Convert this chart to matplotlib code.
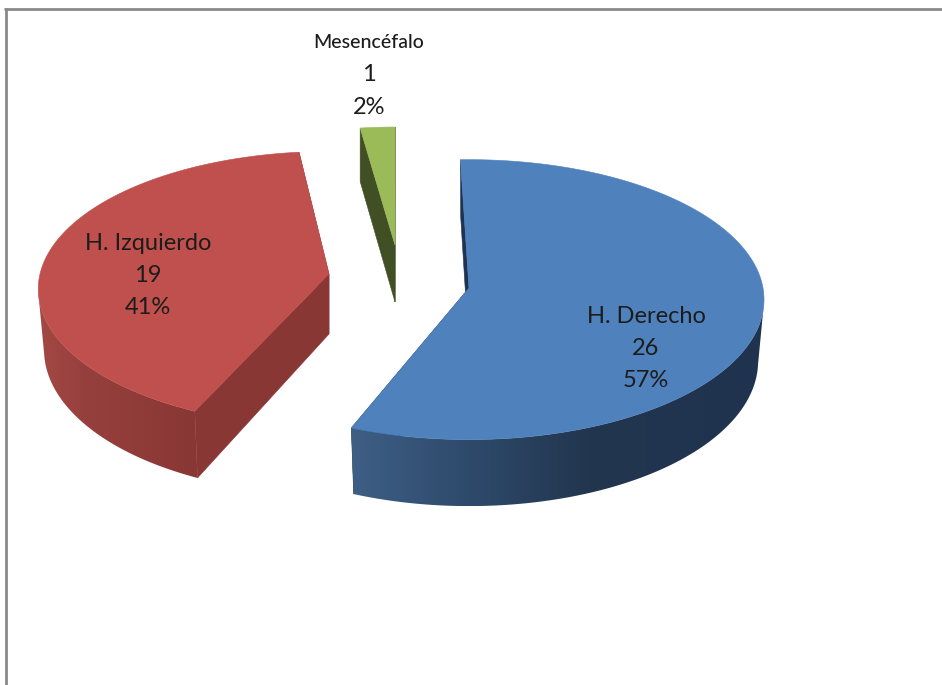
import numpy as np
import matplotlib
matplotlib.use("Agg")
import matplotlib.pyplot as plt
from matplotlib.colors import to_rgb
from matplotlib.patches import Polygon

# Lesion site counts
categories = ["H. Derecho", "H. Izquierdo", "Mesencéfalo"]
counts = [26, 19, 1]

# Slice styling
top_colors = ["#4f81bd", "#c0504d", "#9bbb59"]
cut_colors = ["#1f3350", "#893735", "#404f24"]
rim_stops = [
    ([100, 158, 180, 202], ["#1f3350", "#22364f", "#2e4a6b", "#3f5f86"]),
    ([205, 232, 262], ["#893735", "#96403d", "#a44845"]),
    None,
]
# The rim is visible from the silhouette generator to the slice's cut edge
rim_span = [(96, None), (None, 262), None]

# Exploded layout in pixels: hub x, hub y, radii, perspective, thickness, first angle
hub_x = [469, 329, 395]
hub_y = [288, 274, 245]
radius_x = [294, 289, 274]
radius_y = [139, 136, 126]
persp = [0.083, 0.11, 0.068]
thickness = [61, 60, 57]
floor_scale = [0.98, 0.98, 1.0]
first_angle = [-1.8, 204.7, -7.8]

total = sum(counts)
fig = plt.figure(figsize=(9.42, 6.85), dpi=100, facecolor="white")
ax = fig.add_axes([0, 0, 1, 1])
ax.set_xlim(0, 942)
ax.set_ylim(685, 0)
ax.axis("off")


def project(theta, i, drop=0.0):
    """Map a clock angle on slice i's disc to the screen; drop > 0 gives the lower disc."""
    t = np.radians(theta)
    w = 1 + persp[i] * np.cos(t)
    sx = floor_scale[i] if drop else 1.0
    x = hub_x[i] + sx * radius_x[i] * np.sin(t) / w
    y = hub_y[i] - radius_y[i] * np.cos(t) / w + drop / w
    return x, y


def hub(i, drop=0.0):
    return hub_x[i], hub_y[i] + drop


for i, count in enumerate(counts):
    start = first_angle[i]
    end = start + 360.0 * count / total
    d = thickness[i]

    # Flat faces exposed by the explosion
    for edge in (start, end):
        quad = [project(edge, i), project(edge, i, d), hub(i, d), hub(i)]
        ax.add_patch(Polygon(quad, closed=True, fc=cut_colors[i], ec=cut_colors[i], lw=0.4, zorder=2))

    # Curved rim: a horizontal gradient clipped to the visible strip
    if rim_stops[i] is not None:
        lo = rim_span[i][0] if rim_span[i][0] is not None else start
        hi = rim_span[i][1] if rim_span[i][1] is not None else end
        arc = np.linspace(lo, hi, 300)
        ux, uy = project(arc, i)
        bx, by = project(arc, i, d)
        strip = np.column_stack([np.r_[ux, bx[::-1]], np.r_[uy, by[::-1]]])
        stops, cols = rim_stops[i]
        rgb = np.array([to_rgb(c) for c in cols])
        stop_x, _ = project(np.array(stops, float), i)
        order = np.argsort(stop_x)
        x0, x1 = strip[:, 0].min(), strip[:, 0].max()
        grid = np.linspace(x0, x1, 600)
        ramp = np.stack([np.interp(grid, stop_x[order], rgb[order, c]) for c in range(3)], axis=-1)
        img = ax.imshow(ramp[np.newaxis, :, :], extent=(x0, x1, strip[:, 1].max(), strip[:, 1].min()),
                        aspect="auto", interpolation="bilinear", zorder=3)
        patch = Polygon(strip, closed=True, fc="none", ec="none", transform=ax.transData)
        ax.add_patch(patch)
        img.set_clip_path(patch)

    # Top face
    thetas = np.linspace(start, end, 241)
    xs, ys = project(thetas, i)
    outline = np.column_stack([np.r_[hub_x[i], xs], np.r_[hub_y[i], ys]])
    ax.add_patch(Polygon(outline, closed=True, fc=top_colors[i], ec=top_colors[i], lw=0.4, zorder=4))

ax.set_xlim(0, 942)
ax.set_ylim(685, 0)

# Data labels: name, count and share on three lines
label_x = [646, 148, 369]
label_y = [316, 243, 42]
label_step = [32.0, 32.0, 32.5]
label_font = "Lato"
text_colour = "#1c1c1c"
for i, name in enumerate(categories):
    share = f"{100 * counts[i] / total:.0f}%"
    name_size = 14.0 if i == 2 else 17.0
    name_weight = "medium" if i == 2 else "normal"
    ax.text(label_x[i], label_y[i], name, ha="center", va="center", family=label_font,
            fontsize=name_size, fontweight=name_weight, color=text_colour, zorder=6)
    ax.text(label_x[i], label_y[i] + label_step[i], str(counts[i]), ha="center", va="center",
            family=label_font, fontsize=17.0, color=text_colour, zorder=6)
    ax.text(label_x[i], label_y[i] + 2 * label_step[i], share, ha="center", va="center",
            family=label_font, fontsize=17.0, color=text_colour, zorder=6)

# Chart frame: only its top and left edges are in view
frame = "#8a8a8a"
ax.plot([4, 942], [9, 9], color=frame, lw=2.0, solid_capstyle="butt", zorder=1)
ax.plot([5.5, 5.5], [8, 685], color=frame, lw=2.0, solid_capstyle="butt", zorder=1)

fig.savefig("out.png", dpi=100, facecolor="white")
